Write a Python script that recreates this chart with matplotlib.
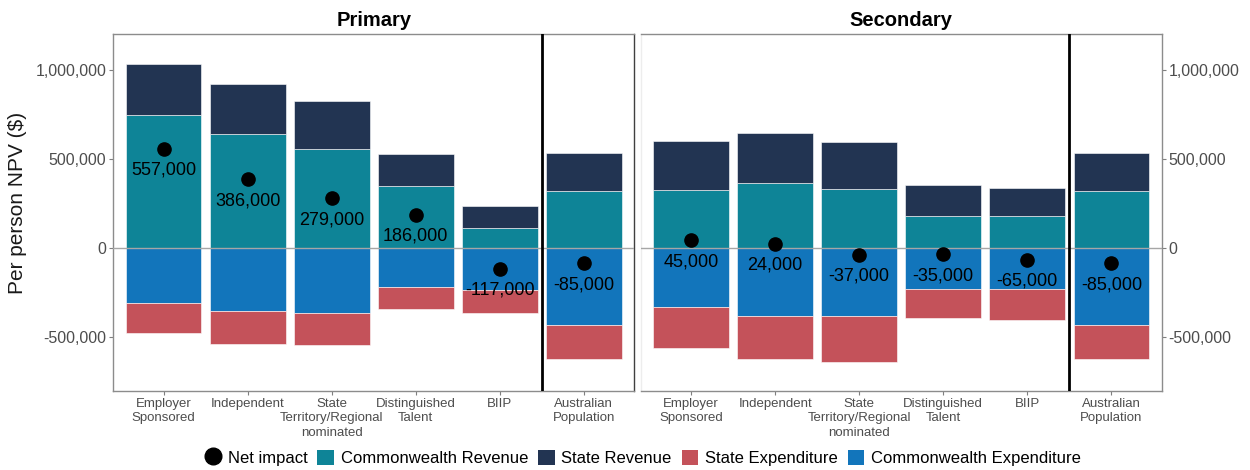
import matplotlib.pyplot as plt
import numpy as np
from matplotlib.lines import Line2D
from matplotlib.patches import Patch
from matplotlib.ticker import FuncFormatter

plt.rcParams['font.family'] = ['Liberation Sans', 'DejaVu Sans']

categories = ['Employer\nSponsored', 'Independent', 'State\nTerritory/Regional\nnominated',
              'Distinguished\nTalent', 'BIIP', 'Australian\nPopulation']

# per person NPV ($)
primary_cw_rev = [747000, 639000, 556000, 350000, 112000, 320000]
primary_st_rev = [287000, 281000, 266000, 176000, 124000, 212000]
primary_cw_exp = [-309000, -354000, -363000, -217000, -236000, -429000]
primary_st_exp = [-167000, -185000, -182000, -126000, -127000, -195000]
primary_net = [557000, 386000, 279000, 186000, -117000, -85000]

secondary_cw_rev = [324000, 363000, 333000, 178000, 182000, 320000]
secondary_st_rev = [275000, 281000, 263000, 178000, 155000, 212000]
secondary_cw_exp = [-333000, -380000, -382000, -227000, -230000, -429000]
secondary_st_exp = [-225000, -244000, -255000, -168000, -176000, -195000]
secondary_net = [45000, 24000, -37000, -35000, -65000, -85000]

c_cw_rev = '#0e8497'
c_st_rev = '#223452'
c_st_exp = '#c4525a'
c_cw_exp = '#1275bb'


def draw_panel(ax, cw_rev, st_rev, cw_exp, st_exp, net, title):
    x = np.arange(len(categories))
    w = 0.9
    ax.bar(x, cw_rev, w, color=c_cw_rev, edgecolor='white', linewidth=0.4, zorder=2)
    ax.bar(x, st_rev, w, bottom=cw_rev, color=c_st_rev, edgecolor='white', linewidth=0.4, zorder=2)
    ax.bar(x, cw_exp, w, color=c_cw_exp, edgecolor='white', linewidth=0.4, zorder=2)
    ax.bar(x, st_exp, w, bottom=cw_exp, color=c_st_exp, edgecolor='white', linewidth=0.4, zorder=2)
    ax.axhline(0, color='#a6a6a6', lw=1, zorder=3)
    ax.axvline(4.5, color='black', lw=2, zorder=4)
    ax.plot(x, net, 'o', color='black', ms=9.5, zorder=5)
    for xi, v in zip(x, net):
        ax.annotate(f'{v:,}', (xi, v), xytext=(0, -15.5), textcoords='offset points',
                    ha='center', va='center', fontsize=13, color='black', zorder=6)

    ax.set_xlim(-0.6, 5.6)
    ax.set_ylim(-800000, 1200000)
    ax.set_xticks(x)
    ax.set_xticklabels(categories, fontsize=9.5, color='#4d4d4d', linespacing=1.3)
    ax.set_yticks([-500000, 0, 500000, 1000000])
    ax.yaxis.set_major_formatter(FuncFormatter(lambda v, p: f'{v:,.0f}'))
    ax.tick_params(axis='both', length=3, width=0.8, color='#7f7f7f', pad=2)
    ax.tick_params(axis='y', labelsize=11.5, labelcolor='#4d4d4d')
    ax.set_title(title, fontsize=14.5, fontweight='bold', pad=6)
    for s in ax.spines.values():
        s.set_color('#8c8c8c')
        s.set_linewidth(1)


fig = plt.figure(figsize=(12.5, 4.7), dpi=100)
ax1 = fig.add_axes([0.0906, 0.1687, 0.4168, 0.759])
ax2 = fig.add_axes([0.5126, 0.1687, 0.4168, 0.759])

draw_panel(ax1, primary_cw_rev, primary_st_rev, primary_cw_exp, primary_st_exp, primary_net, 'Primary')
draw_panel(ax2, secondary_cw_rev, secondary_st_rev, secondary_cw_exp, secondary_st_exp, secondary_net, 'Secondary')

ax1.spines['right'].set_color('#404040')
ax2.spines['left'].set_color('#ededed')
ax2.yaxis.tick_right()
ax2.tick_params(axis='y', length=3, color='#7f7f7f', pad=2)

ax1.set_ylabel('Per person NPV ($)', fontsize=15, color='#1a1a1a')
ax1.yaxis.set_label_coords(-0.166, 0.525)

handles = [
    Line2D([], [], marker='o', color='black', ls='', markersize=12),
    Patch(facecolor=c_cw_rev),
    Patch(facecolor=c_st_rev),
    Patch(facecolor=c_st_exp),
    Patch(facecolor=c_cw_exp),
]
labels = ['Net impact', 'Commonwealth Revenue', 'State Revenue', 'State Expenditure', 'Commonwealth Expenditure']
fig.legend(handles, labels, loc='center', bbox_to_anchor=(0.514, 0.026), ncol=5, frameon=False,
           fontsize=12, handlelength=1.0, handleheight=1.0, handletextpad=0.4, columnspacing=0.6)

plt.savefig('out.png', dpi=100)
